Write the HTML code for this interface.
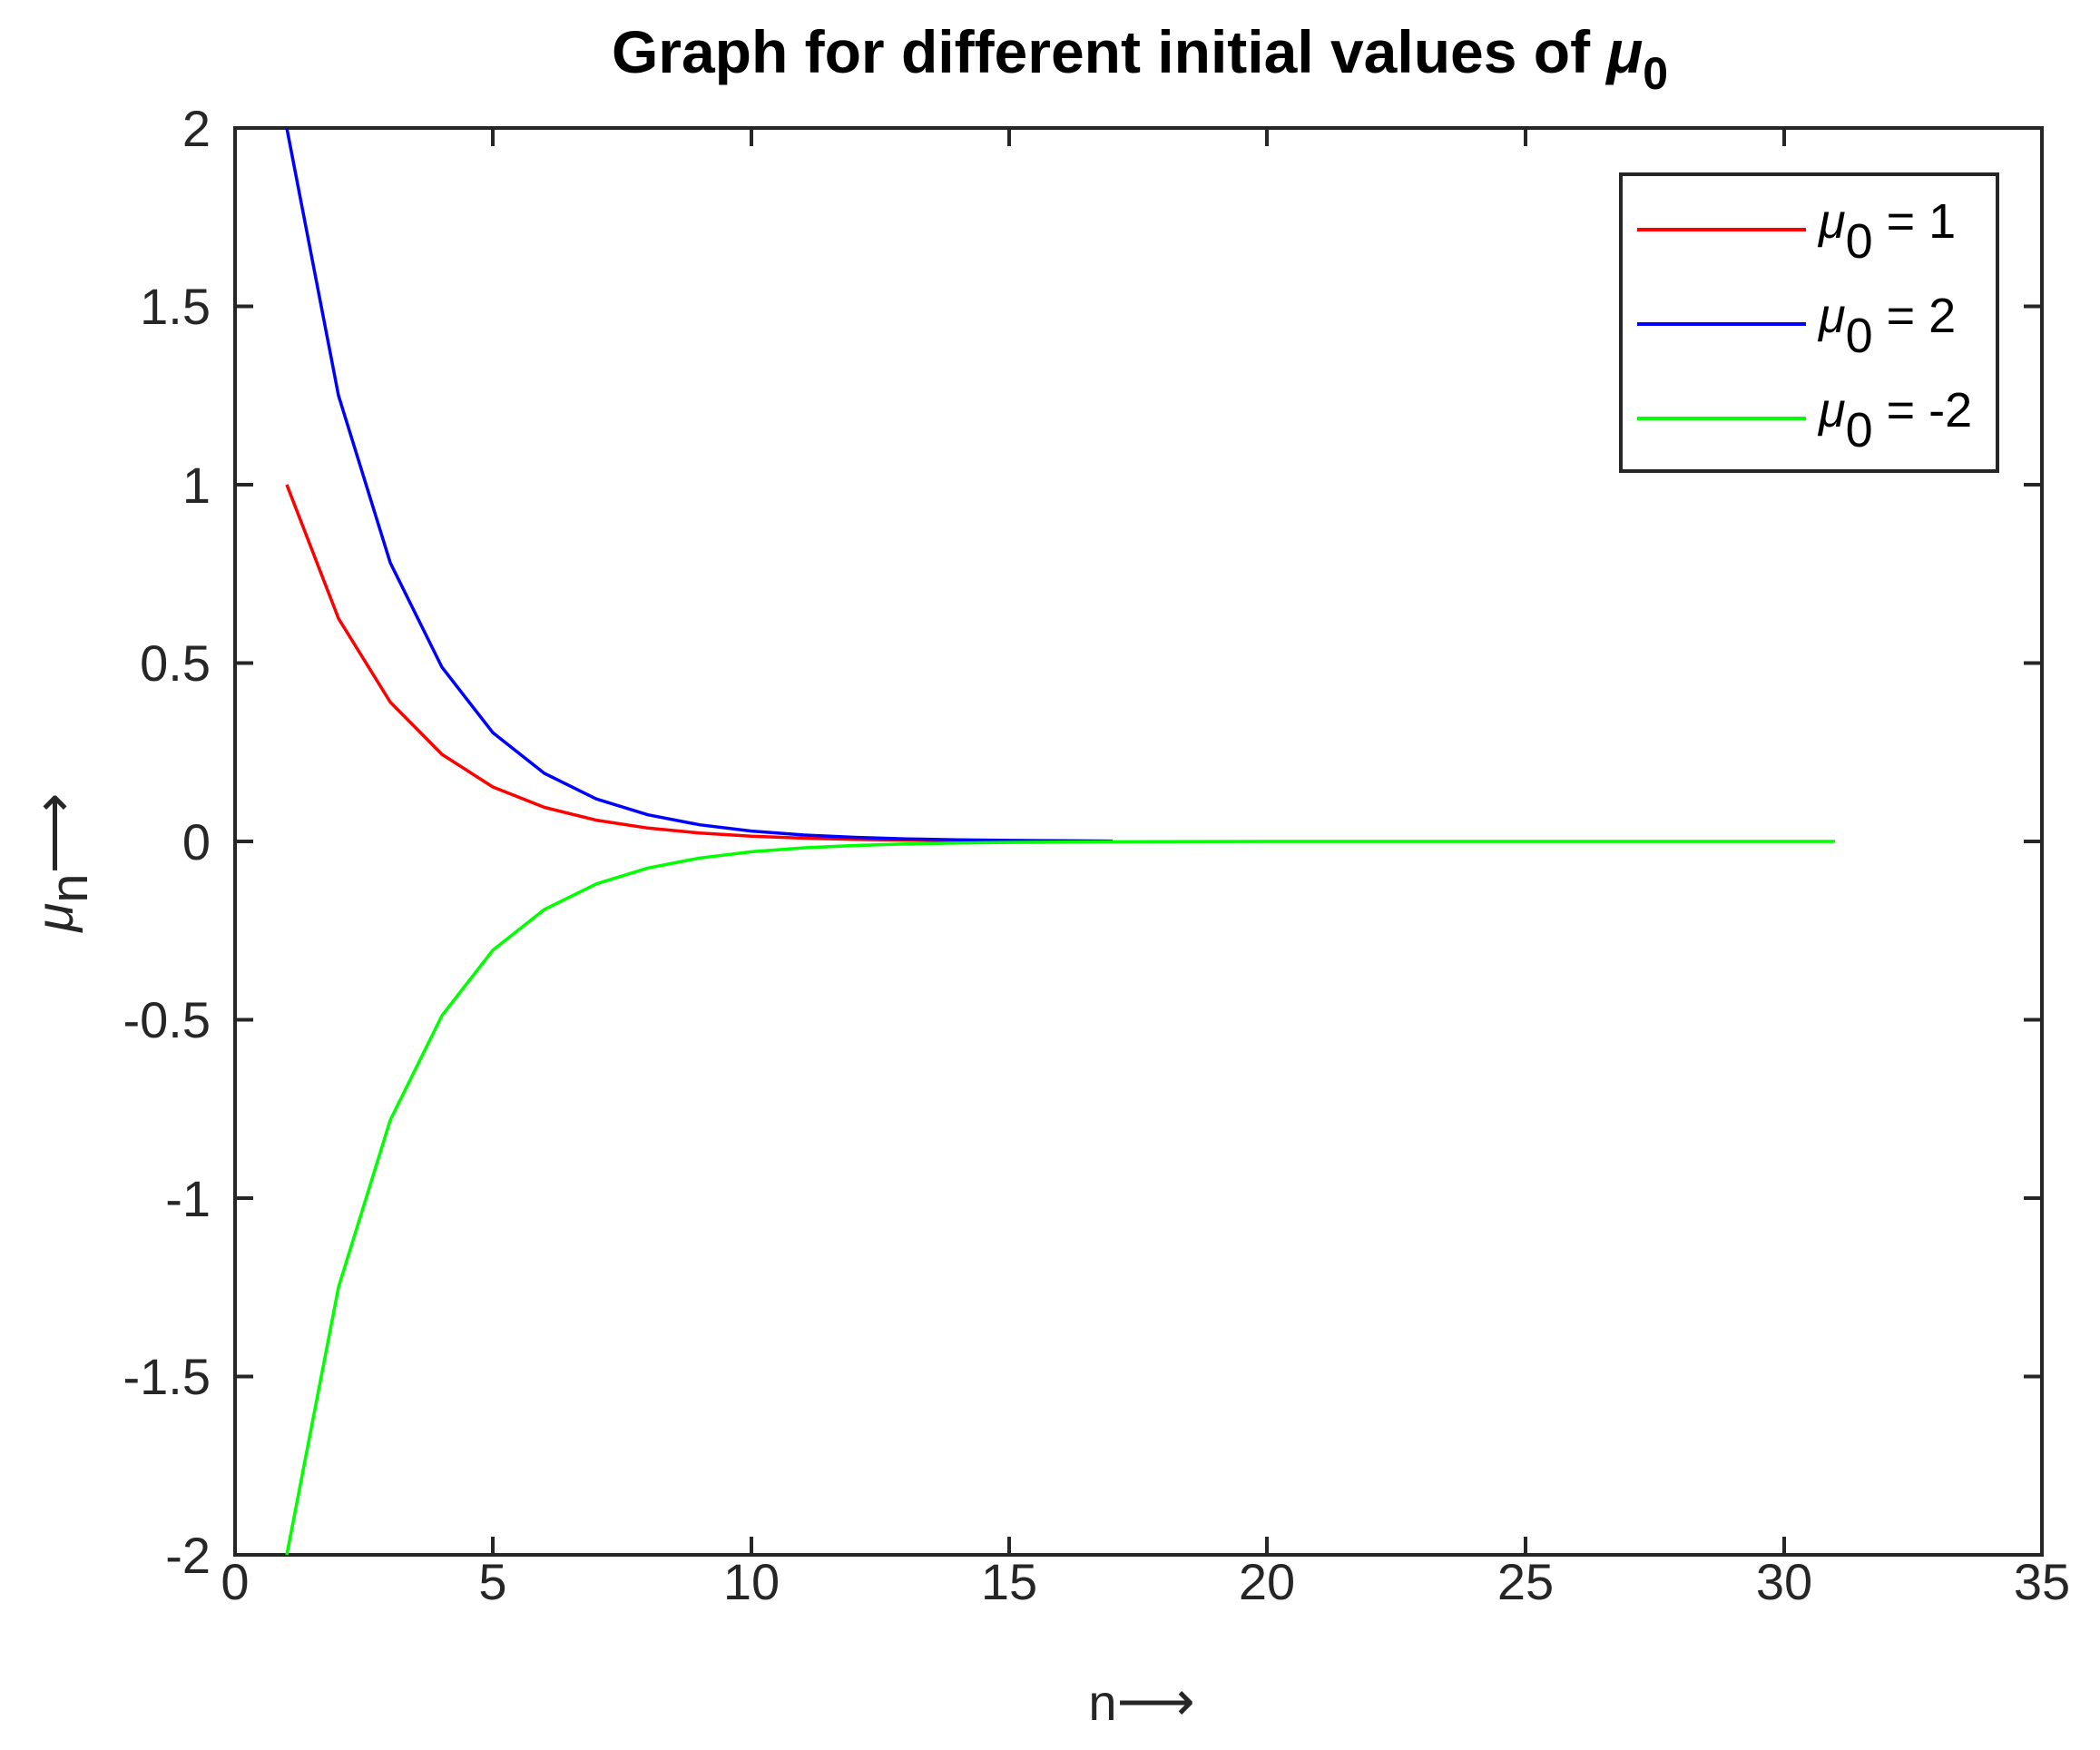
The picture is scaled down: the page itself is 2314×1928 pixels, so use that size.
<!DOCTYPE html>
<html><head><meta charset="utf-8"><style>html,body{margin:0;padding:0;background:#fff}svg{display:block}</style></head>
<body>
<svg width="2314" height="1928" viewBox="0 0 2314 1928" xmlns="http://www.w3.org/2000/svg" font-family="Liberation Sans, Arial, sans-serif">
<rect width="2314" height="1928" fill="#fff"/>
<text x="1256" y="80" font-size="66" font-weight="bold" text-anchor="middle" fill="#000">Graph for different initial values of <tspan font-style="italic">μ</tspan><tspan font-size="50" dy="18">0</tspan></text>
<g stroke="#262626" stroke-width="4" fill="none">
<rect x="259" y="141" width="1991" height="1572"/>
<path d="M543 1713v-20M828 1713v-20M1112 1713v-20M1396 1713v-20M1681 1713v-20M1966 1713v-20M543 141v20M828 141v20M1112 141v20M1396 141v20M1681 141v20M1966 141v20"/>
<path d="M259 337.5h20M259 534h20M259 730.5h20M259 927h20M259 1123.5h20M259 1320h20M259 1516.5h20M2250 337.5h-20M2250 534h-20M2250 730.5h-20M2250 927h-20M2250 1123.5h-20M2250 1320h-20M2250 1516.5h-20"/>
</g>
<g font-size="56" fill="#262626" text-anchor="end">
<text x="232" y="161">2</text><text x="232" y="357">1.5</text><text x="232" y="554">1</text><text x="232" y="750">0.5</text><text x="232" y="947">0</text><text x="232" y="1143">-0.5</text><text x="232" y="1340">-1</text><text x="232" y="1536">-1.5</text><text x="232" y="1733">-2</text>
</g>
<g font-size="56" fill="#262626" text-anchor="middle">
<text x="259" y="1762">0</text><text x="543" y="1762">5</text><text x="828" y="1762">10</text><text x="1112" y="1762">15</text><text x="1396" y="1762">20</text><text x="1681" y="1762">25</text><text x="1966" y="1762">30</text><text x="2250" y="1762">35</text>
<text x="1258" y="1895">n<tspan font-size="60">⟶</tspan></text>
</g>
<text transform="translate(80,950) rotate(-90)" font-size="58" fill="#262626" text-anchor="middle"><tspan font-style="italic">μ</tspan><tspan dy="16">n</tspan><tspan dy="-16" font-size="62">⟶</tspan></text>
<g fill="none" stroke-width="3.5" stroke-linejoin="round">
<polyline stroke="#ff0000" points="316,534 373,681.4 430,773.5 487,831.1 543,867 600,889.5 657,903.6 714,912.3 771,917.8 828,921.3 885,923.4 942,924.8 999,925.6 1055,926.1"/>
<polyline stroke="#0000ff" points="316,141 373,435.8 430,619.9 487,735.1 543,807.1 600,852.1 657,880.2 714,897.7 771,908.7 828,915.6 885,919.9 942,922.5 999,924.2 1055,925.3 1112,925.9 1169,926.3 1226,926.6"/>
<polyline stroke="#00ff00" points="316,1713 373,1418.2 430,1234.1 487,1118.9 543,1046.9 600,1001.9 657,973.8 714,956.3 771,945.3 828,938.4 885,934.1 942,931.5 999,929.8 1055,928.7 1112,928.1 1169,927.7 1226,927.4 1283,927.2 1396,927 2022,927"/>
</g>
<rect x="1786" y="192" width="415" height="327" fill="#fff" stroke="#262626" stroke-width="4"/>
<g stroke-width="4">
<line x1="1804" y1="253" x2="1990" y2="253" stroke="#ff0000"/>
<line x1="1804" y1="357" x2="1990" y2="357" stroke="#0000ff"/>
<line x1="1804" y1="461" x2="1990" y2="461" stroke="#00ff00"/>
</g>
<g font-size="54" fill="#000">
<text x="2004" y="262"><tspan font-style="italic">μ</tspan><tspan dy="22">0</tspan><tspan dy="-22"> = 1</tspan></text>
<text x="2004" y="366"><tspan font-style="italic">μ</tspan><tspan dy="22">0</tspan><tspan dy="-22"> = 2</tspan></text>
<text x="2004" y="470"><tspan font-style="italic">μ</tspan><tspan dy="22">0</tspan><tspan dy="-22"> = -2</tspan></text>
</g>
</svg>
</body></html>
